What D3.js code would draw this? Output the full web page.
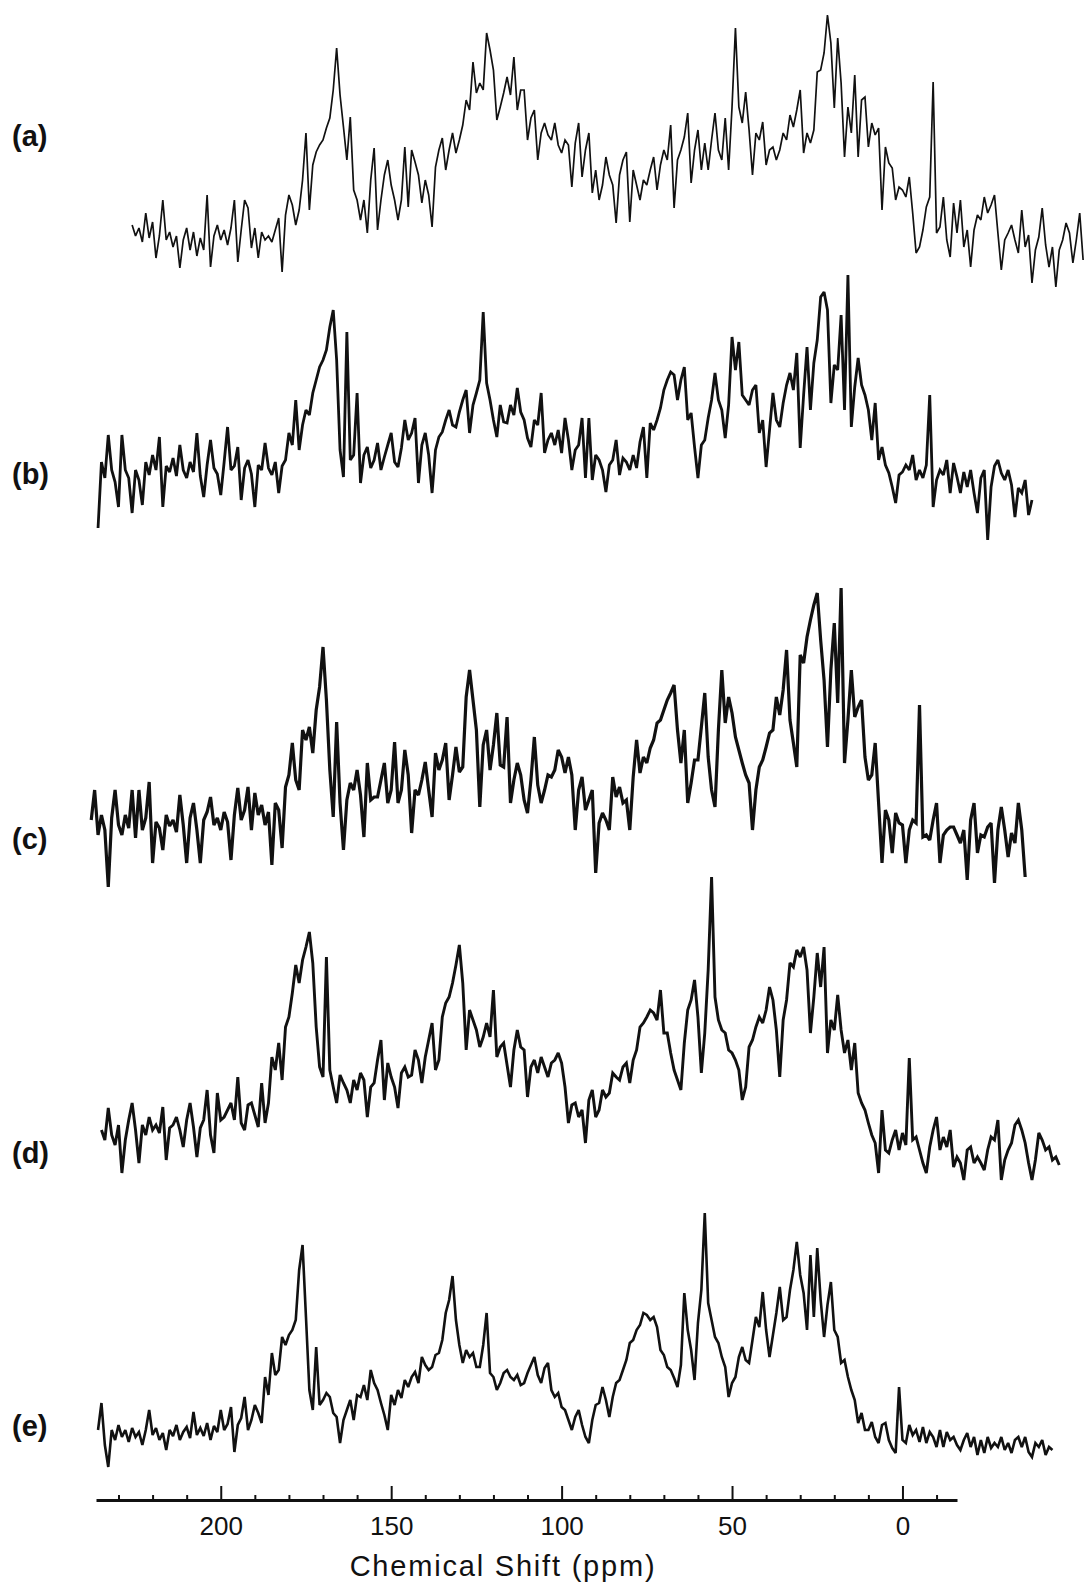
<!DOCTYPE html>
<html>
<head>
<meta charset="utf-8">
<script src="https://cdn.jsdelivr.net/npm/d3@7"></script>
<style>
  body { margin: 0; background: #fff; }
  svg { display: block; }
</style>
</head>
<body>
<div id="chart"></div>
<script>
// spectra labels and their first chemical shift (ppm); points are 1 ppm apart, going upfield
const traceLabels = ["(a)", "(b)", "(c)", "(d)", "(e)"];
const startPpm = [226, 236, 238, 235, 236];

// intensities (arbitrary units)
const specA = [
  75,64,72,58,87,62,78,42,64,100, 60,68,53,64,32,60,72,50,68,44,
  62,50,105,33,64,75,60,70,55,72, 100,38,70,100,92,52,72,42,68,60,
  64,58,70,82,28,85,105,95,75,90, 120,167,90,135,148,155,160,172,182,210,
  252,205,173,140,183,110,100,80,100,67, 120,152,70,100,125,140,115,100,80,100,
  153,93,150,138,125,97,120,105,73,133, 150,162,130,150,167,147,160,175,200,190,
  238,207,217,210,267,250,230,180,193,207, 223,205,243,190,210,210,160,182,190,140,
  167,177,165,160,177,155,147,160,155,113, 157,177,123,150,167,107,130,100,115,143,
  125,115,77,125,140,148,78,130,115,100, 120,115,130,143,110,135,150,140,175,92,
  140,150,163,187,117,150,170,130,157,130, 160,187,150,140,182,130,193,272,193,177,
  208,170,125,167,160,178,135,150,153,140, 150,167,160,185,173,190,210,147,167,157,
  170,228,230,247,285,257,192,262,217,143, 193,167,225,143,200,203,153,177,165,172,
  90,153,137,132,100,113,110,103,123,87, 47,53,70,93,103,218,67,73,103,60,
  43,97,67,100,53,70,33,70,85,80, 103,87,95,105,67,30,60,67,75,60,
  47,90,53,65,17,50,63,92,55,33, 53,13,50,60,77,67,37,60,87,40
];
const specB = [
  12,78,62,105,70,58,33,105,70,62, 27,70,60,35,78,65,85,70,103,33,
  74,68,82,64,95,70,62,78,68,107, 64,43,75,100,72,66,45,78,113,70,
  74,93,40,72,80,66,33,75,70,97, 72,65,78,47,74,80,107,95,140,90,
  115,130,125,147,160,173,180,190,213,230, 180,90,63,208,80,85,147,57,85,93,
  72,80,97,70,83,95,107,78,73,92, 120,100,107,122,57,95,107,85,47,90,
  103,108,120,130,115,113,128,140,150,107, 135,147,160,228,157,140,120,103,135,118,
  117,135,125,152,128,120,102,93,120,115, 147,87,100,107,95,110,87,122,100,70,
  90,95,122,62,122,60,85,80,70,48, 75,80,100,65,82,78,70,85,72,98,
  113,62,117,110,120,132,150,160,168,165, 140,160,173,120,127,93,62,95,100,122,
  140,167,140,130,102,135,203,170,198,145, 140,135,150,155,107,120,73,110,147,120,
  113,137,155,167,150,187,92,145,193,130, 177,200,243,248,230,137,175,170,225,130,
  265,113,153,182,155,145,130,100,137,80, 93,75,67,53,37,65,68,75,70,85,
  60,70,62,75,145,33,60,70,65,80, 47,77,63,47,68,53,70,47,27,62,
  70,0,53,74,80,67,60,70,55,23, 52,47,60,25,40
];
const specC = [
  80,110,65,85,70,13,82,110,75,65, 85,72,110,62,110,70,82,118,37,78,
  72,50,85,74,80,68,105,75,37,82, 97,70,37,80,88,103,75,82,70,88,
  78,40,85,112,80,90,113,70,107,85, 95,75,88,35,97,90,52,113,125,157,
  120,110,170,160,173,147,190,213,253,200, 130,83,178,97,50,100,117,110,130,105,
  63,137,100,103,103,120,137,97,110,158, 97,110,150,125,67,110,105,120,138,110,
  83,147,130,140,157,100,125,153,128,133, 203,230,200,170,93,155,170,130,155,187,
  135,133,183,97,120,137,125,100,87,120, 163,115,97,110,125,123,130,150,143,127,
  143,125,70,110,123,90,100,110,27,77, 87,80,70,123,103,113,97,100,70,123,
  160,127,143,137,152,160,177,180,190,200, 207,215,170,137,170,97,117,140,140,173,
  207,143,110,93,170,230,177,203,187,163, 150,137,125,117,70,110,133,140,153,167,
  170,203,185,210,250,180,157,133,245,237, 263,280,295,307,260,220,153,230,277,197,
  312,137,180,230,183,193,200,143,120,125, 157,97,37,90,80,47,87,77,75,37,
  70,80,77,195,63,65,60,80,97,37, 65,70,73,73,65,57,70,20,80,97,
  47,65,63,73,77,17,70,93,70,43, 67,57,97,70,23
];
const specD = [
  60,50,82,55,45,65,17,50,70,87, 60,27,65,55,73,60,65,57,83,30,
  62,65,73,60,43,70,87,63,33,62, 70,100,55,37,97,70,73,80,87,70,
  113,67,60,85,87,75,63,107,67,87, 133,120,147,110,163,173,197,225,207,230,
  243,258,227,163,123,113,233,120,103,87, 115,107,100,87,110,100,117,110,73,103,
  107,130,150,90,127,113,103,82,117,123, 113,115,140,130,107,133,150,167,120,130,
  173,187,193,207,225,245,207,140,180,170, 160,143,153,167,153,200,133,143,147,125,
  103,140,160,143,140,93,123,130,117,133, 123,113,127,130,137,127,103,67,85,87,
  73,80,47,90,100,73,80,100,93,97, 117,113,110,123,127,107,130,140,163,167,
  173,180,177,170,200,157,157,137,120,110, 100,147,180,190,210,173,117,157,220,313,
  193,170,160,157,140,137,130,120,90,103, 143,150,163,173,167,180,203,190,160,113,
  170,190,227,223,240,233,243,220,157,193, 237,203,243,137,170,160,195,160,137,150,
  120,147,97,87,80,67,55,47,17,80, 40,37,50,60,40,57,45,132,50,53,
  40,27,17,43,60,73,40,53,43,60, 23,33,27,10,40,43,27,33,27,20,
  40,53,50,70,10,30,40,47,65,70, 60,47,27,10,30,57,50,40,43,30,
  33,25
];
const specE = [
  40,67,25,3,40,30,45,33,40,28, 42,33,38,25,40,60,35,42,30,37,
  20,40,34,45,30,38,43,32,58,35, 42,34,47,30,44,38,60,40,46,63,
  18,45,52,73,40,50,65,57,47,93, 75,117,95,100,133,125,135,140,150,200,
  225,153,80,60,123,65,70,77,73,57, 53,27,50,60,70,50,75,73,85,70,
  100,87,80,67,55,40,75,65,80,72, 90,83,93,98,87,113,105,100,103,115,
  117,130,157,170,194,150,125,107,120,113, 117,103,103,125,157,97,93,80,87,97,
  100,93,90,95,85,87,97,105,113,95, 87,102,107,80,73,77,63,60,50,40,
  53,60,45,33,27,50,65,67,83,70, 53,73,87,90,100,110,127,130,140,145,
  157,155,150,153,143,120,115,103,100,92, 83,105,177,140,120,90,147,180,257,167,
  150,133,127,113,103,73,87,93,113,123, 110,107,130,153,143,178,140,113,135,157,
  183,150,153,180,200,228,195,177,140,215, 153,222,170,133,165,188,140,133,107,110,
  93,80,70,47,57,40,40,48,33,27, 45,47,30,22,17,83,30,27,45,35,
  40,28,43,27,38,33,23,40,23,38, 30,33,25,20,30,37,23,33,15,30,
  17,33,22,27,23,33,20,27,17,30, 33,23,33,18,13,27,23,30,15,23,
  20
];
const spectra = [specA, specB, specC, specD, specE];

// axis ticks (ppm)
const majorTicks = [200, 150, 100, 50, 0];
const minorTicks = [230, 220, 210, 190, 180, 170, 160, 140, 130, 120, 110, 90, 80, 70, 60, 40, 30, 20, 10, -10];
const axisTitle = "Chemical Shift (ppm)";

const width = 1085, height = 1588;
// zero-intensity level of each spectrum on the page, and label centres
const baseY = [300, 540, 900, 1190, 1470];
const labelY = [138, 476, 841, 1155, 1428];
const strokeW = [1.7, 2.8, 3.2, 2.9, 2.6];
const axisY = 1500;

const svg = d3.select("#chart").append("svg")
  .attr("width", width)
  .attr("height", height);

const x = d3.scaleLinear().domain([236.6, -16]).range([96, 957]);

spectra.forEach((vals, k) => {
  const y = d3.scaleLinear().domain([0, 100]).range([baseY[k], baseY[k] - 100]);
  const line = d3.line()
    .x((d, i) => x(startPpm[k] - i))
    .y(d => y(d));

  svg.append("path")
    .datum(vals)
    .attr("d", line)
    .attr("fill", "none")
    .attr("stroke", "#111")
    .attr("stroke-width", strokeW[k])
    .attr("stroke-linejoin", "miter")
    .attr("stroke-miterlimit", 2.5);

  svg.append("text")
    .attr("x", 12)
    .attr("y", labelY[k])
    .attr("dominant-baseline", "middle")
    .style("font-family", "'Liberation Sans', Arial, sans-serif")
    .style("font-weight", "bold")
    .style("font-size", "29px")
    .style("fill", "#111")
    .text(traceLabels[k]);
});

// minor ticks first, then the major axis on top
svg.append("g")
  .attr("transform", `translate(0,${axisY})`)
  .call(d3.axisBottom(x).tickValues(minorTicks).tickSizeInner(-5).tickSizeOuter(0).tickFormat(""))
  .call(g => g.select(".domain").remove())
  .call(g => g.selectAll(".tick line").attr("stroke", "#111").attr("stroke-width", 2));

const axis = svg.append("g")
  .attr("transform", `translate(0,${axisY})`)
  .call(d3.axisBottom(x).tickValues(majorTicks).tickSizeInner(-14).tickSizeOuter(0).tickPadding(17));

axis.select(".domain").attr("stroke", "#111").attr("stroke-width", 3);
axis.selectAll(".tick line").attr("stroke", "#111").attr("stroke-width", 2);
axis.selectAll(".tick text")
  .style("font-family", "'Liberation Sans', Arial, sans-serif")
  .style("font-size", "26px")
  .style("fill", "#111");

svg.append("text")
  .attr("x", 503)
  .attr("y", 1576)
  .attr("text-anchor", "middle")
  .style("font-family", "'Liberation Sans', Arial, sans-serif")
  .style("font-size", "29px")
  .style("letter-spacing", "1.8px")
  .style("fill", "#111")
  .text(axisTitle);
</script>
</body>
</html>
